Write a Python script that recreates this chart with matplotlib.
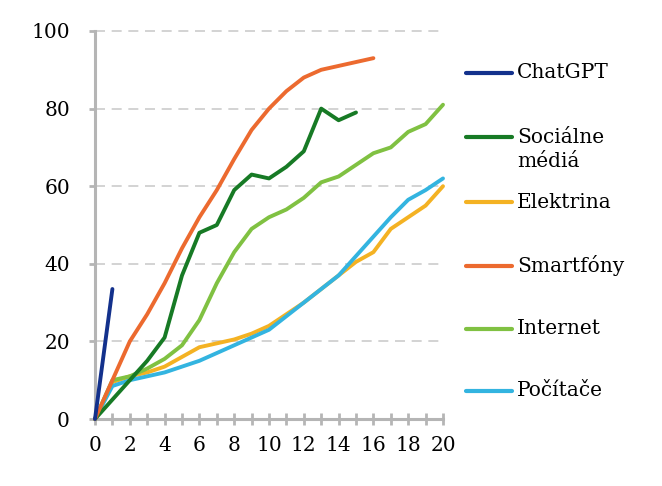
"""Adoption curves: years since launch vs. share of users."""

import matplotlib

matplotlib.use("Agg")
import matplotlib.pyplot as plt
from matplotlib.lines import Line2D

YEARS = list(range(0, 21))

CHATGPT = [0, 33.5]
SOCIAL = [0, 5, 10, 15, 21, 37, 48, 50, 59, 63, 62, 65, 69, 80, 77, 79]
ELECTRICITY = [0, 9.5, 11, 12, 13.5, 16, 18.5, 19.5, 20.5, 22, 24, 27, 30, 33.5, 37, 40.5, 43, 49, 52, 55, 60]
SMARTPHONES = [0, 10, 20, 27, 35, 44, 52, 59, 67, 74.5, 80, 84.5, 88, 90, 91, 92, 93]
INTERNET = [0, 10, 11, 13, 15.5, 19, 25.5, 35, 43, 49, 52, 54, 57, 61, 62.5, 65.5, 68.5, 70, 74, 76, 81]
COMPUTERS = [0, 8.5, 10, 11, 12, 13.5, 15, 17, 19, 21, 23, 26.5, 30, 33.5, 37, 42, 47, 52, 56.5, 59, 62]

LABELS = ["ChatGPT", "Sociálne\nmédiá", "Elektrina", "Smartfóny", "Internet", "Počítače"]
SERIES = [CHATGPT, SOCIAL, ELECTRICITY, SMARTPHONES, INTERNET, COMPUTERS]
COLORS = ["#13318c", "#177a25", "#f4b223", "#ec6a2f", "#80c142", "#33b4e0"]
# legend row centres, pixels from the top of the picture
LEGEND_Y = [73, 137, 202, 266, 329, 391]

plt.rcParams["font.family"] = ["DejaVu Serif"]

fig = plt.figure(figsize=(6.62, 4.86), dpi=100)
ax = fig.add_axes([95 / 662, 1 - 419 / 486, 348 / 662, 388 / 486])

# draw order: back to front roughly as in the picture
order = [2, 5, 4, 1, 3, 0]
for i in order:
    vals = SERIES[i]
    ax.plot(YEARS[: len(vals)], vals, color=COLORS[i], linewidth=2.8,
            solid_capstyle="round", clip_on=False, zorder=3)

ax.set_xlim(0, 20)
ax.set_ylim(0, 100)
ax.set_xticks(range(0, 21, 2))
ax.set_xticks(range(0, 21), minor=True)
ax.set_yticks(range(0, 101, 20))

for y in range(20, 101, 20):
    ax.plot([0, 19.8], [y, y], color="#cccccc", linewidth=1.2,
            linestyle=(0, (6, 4)), zorder=1, clip_on=False)

for side in ["top", "right"]:
    ax.spines[side].set_visible(False)
for side in ["left", "bottom"]:
    ax.spines[side].set_color("#b5b5b5")
    ax.spines[side].set_linewidth(2.2)

ax.tick_params(axis="x", which="both", direction="inout", length=9, width=2,
               color="#b5b5b5", labelsize=14.5, pad=8)
ax.tick_params(axis="y", direction="out", length=4, width=2, color="#b5b5b5",
               labelsize=14.5, pad=14)

for label, color, ypx in zip(LABELS, COLORS, LEGEND_Y):
    yf = 1 - ypx / 486
    fig.add_artist(Line2D([466 / 662, 512 / 662], [yf, yf], color=color,
                          linewidth=3, solid_capstyle="round"))
    if "\n" in label:
        fig.text(517 / 662, yf + 9 / 486, label, fontsize=14.5, va="top",
                 ha="left", linespacing=1.35)
    else:
        fig.text(517 / 662, yf, label, fontsize=14.5, va="center", ha="left")

fig.savefig("out.png", dpi=100)
